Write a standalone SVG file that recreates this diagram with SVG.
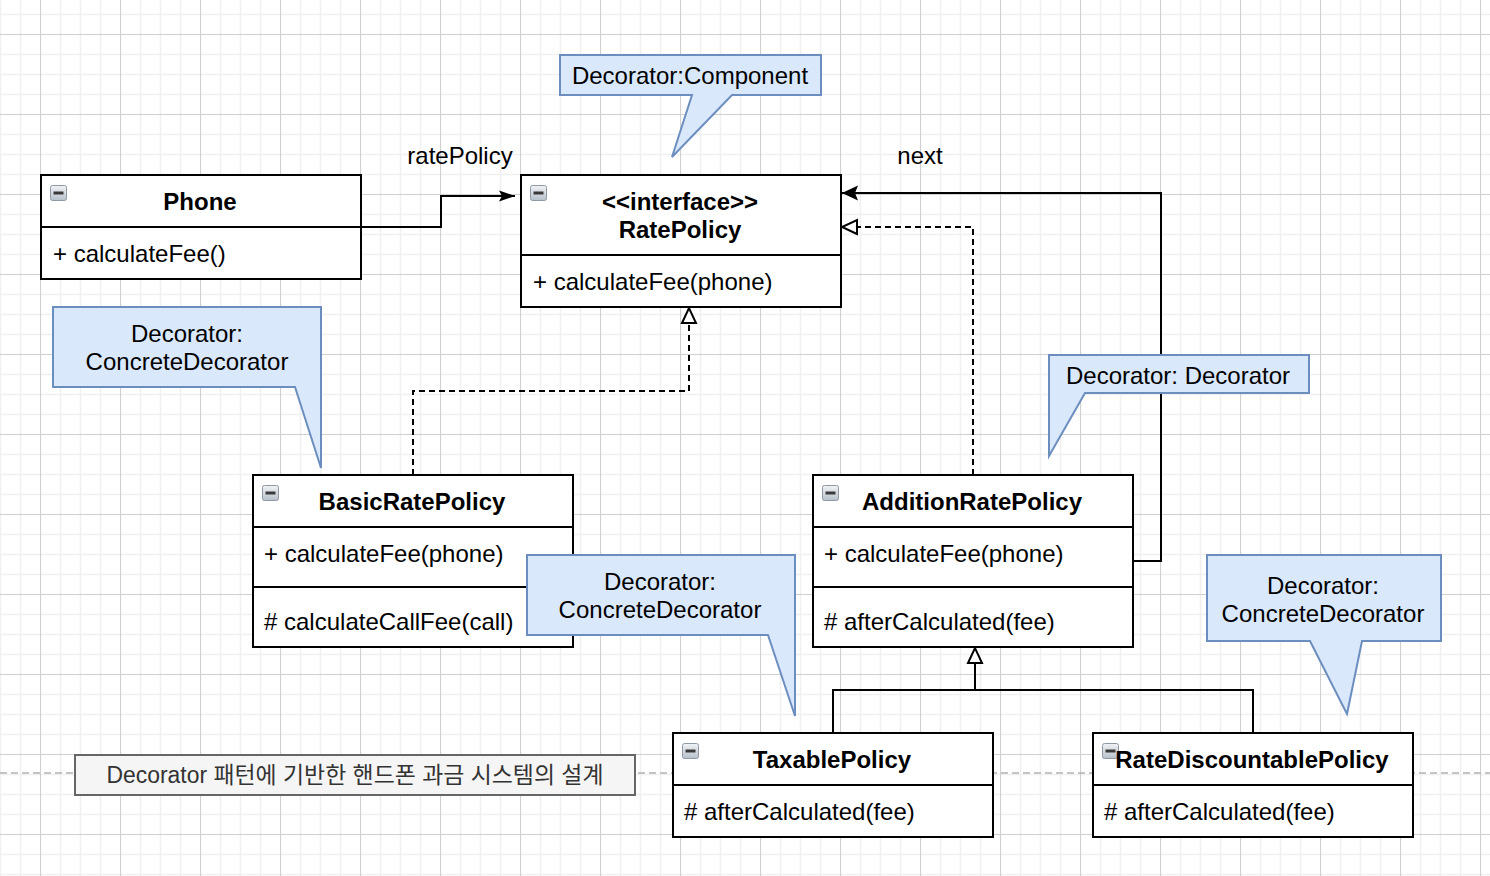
<svg xmlns="http://www.w3.org/2000/svg" xmlns:xlink="http://www.w3.org/1999/xlink" width="1490" height="876" viewBox="0 0 1490 876">
<style>
text{font-family:"Liberation Sans",Arial,sans-serif;font-size:24px;fill:#000}
.b{font-weight:bold}
.m{text-anchor:middle}
.box{fill:#fff;stroke:#000;stroke-width:2}
.div{stroke:#000;stroke-width:2;fill:none}
.edge{fill:none;stroke:#000;stroke-width:2}
.dash{stroke-dasharray:6 4}
.note{fill:#dae8fc;stroke:#6c8ebf;stroke-width:2}
</style>
<defs>
<pattern id="grid" x="40" y="34" width="80" height="80" patternUnits="userSpaceOnUse">
<rect width="80" height="80" fill="#fff"/>
<path d="M20.5 0V80M40.5 0V80M60.5 0V80M0 20.5H80M0 40.5H80M0 60.5H80" stroke="#f0f0f0" stroke-width="1.5"/>
<path d="M0.5 0V80M0 0.5H80" stroke="#d0d0d0" stroke-width="1.2"/>
</pattern>
<linearGradient id="ig" x1="0" y1="0" x2="0" y2="1"><stop offset="0" stop-color="#f1f3f6"/><stop offset="1" stop-color="#b7c0ca"/></linearGradient>
<g id="minus"><rect x="0.5" y="0.5" width="16" height="15" rx="2" fill="url(#ig)" stroke="#8f99a6"/><rect x="3.5" y="6.5" width="10" height="3" fill="#3a3a3a"/></g>
<marker id="arrowFilled" markerWidth="16" markerHeight="12" refX="16" refY="6" orient="auto" markerUnits="userSpaceOnUse"><path d="M0,0.5 L16,6 L0,11.5 L3,6 Z" fill="#000"/></marker>
<marker id="arrowBig" markerWidth="16" markerHeight="16" refX="16" refY="8" orient="auto" markerUnits="userSpaceOnUse"><path d="M0,0.5 L16,8 L0,15.5 L3,8 Z" fill="#000"/></marker>
<marker id="triHollow" markerWidth="20" markerHeight="20" refX="17" refY="9" orient="auto" markerUnits="userSpaceOnUse" overflow="visible"><path d="M2,2 L17,9 L2,16 Z" fill="#fff" stroke="#000" stroke-width="2" stroke-dasharray="none"/></marker>
</defs>
<rect width="1490" height="876" fill="url(#grid)"/>
<line x1="0" y1="773" x2="1490" y2="773" stroke="#b3b3b3" stroke-width="1.5" stroke-dasharray="7 4"/>

<g id="title">
<rect x="75" y="755" width="560" height="40" fill="#f5f5f5" stroke="#666" stroke-width="2"/>
<text x="355" y="783" class="m" style="fill:#333;font-family:'Liberation Sans','Noto Sans CJK KR',sans-serif;font-size:23px" textLength="497" lengthAdjust="spacingAndGlyphs">Decorator 패턴에 기반한 핸드폰 과금 시스템의 설계</text>
</g>

<g id="connectors">
<path class="edge" d="M361,227 H441 V196 H515" marker-end="url(#arrowFilled)"/>
<path class="edge dash" d="M413,475 V391 H689 V308" marker-end="url(#triHollow)"/>
<path class="edge dash" d="M973,475 V227 H842" marker-end="url(#triHollow)"/>
<path class="edge" d="M1133,561 H1161 V193 H842" marker-end="url(#arrowBig)"/>
<path class="edge" d="M833,733 V690 H1253 V733"/>
<path class="edge" d="M975,690 V648" marker-end="url(#triHollow)"/>
<text x="460" y="164" class="m">ratePolicy</text>
<text x="920" y="164" class="m">next</text>
</g>

<g id="phone">
<rect class="box" x="41" y="175" width="320" height="104"/>
<line class="div" x1="41" y1="227" x2="361" y2="227"/>
<use xlink:href="#minus" x="50" y="185"/>
<text x="200" y="210" class="b m">Phone</text>
<text x="53" y="262">+ calculateFee()</text>
</g>

<g id="ratePolicy">
<rect class="box" x="521" y="175" width="320" height="132"/>
<line class="div" x1="521" y1="255" x2="841" y2="255"/>
<use xlink:href="#minus" x="530" y="185"/>
<text x="680" y="210" class="b m">&lt;&lt;interface&gt;&gt;</text>
<text x="680" y="238" class="b m">RatePolicy</text>
<text x="533" y="290">+ calculateFee(phone)</text>
</g>

<g id="basicRatePolicy">
<rect class="box" x="253" y="475" width="320" height="172"/>
<line class="div" x1="253" y1="527" x2="573" y2="527"/>
<line class="div" x1="253" y1="587" x2="573" y2="587"/>
<use xlink:href="#minus" x="262" y="485"/>
<text x="412" y="510" class="b m">BasicRatePolicy</text>
<text x="264" y="562">+ calculateFee(phone)</text>
<text x="264" y="630"># calculateCallFee(call)</text>
</g>

<g id="additionRatePolicy">
<rect class="box" x="813" y="475" width="320" height="172"/>
<line class="div" x1="813" y1="527" x2="1133" y2="527"/>
<line class="div" x1="813" y1="587" x2="1133" y2="587"/>
<use xlink:href="#minus" x="822" y="485"/>
<text x="972" y="510" class="b m">AdditionRatePolicy</text>
<text x="824" y="562">+ calculateFee(phone)</text>
<text x="824" y="630"># afterCalculated(fee)</text>
</g>

<g id="taxablePolicy">
<rect class="box" x="673" y="733" width="320" height="104"/>
<line class="div" x1="673" y1="785" x2="993" y2="785"/>
<use xlink:href="#minus" x="682" y="743"/>
<text x="832" y="768" class="b m">TaxablePolicy</text>
<text x="684" y="820"># afterCalculated(fee)</text>
</g>

<g id="rateDiscountablePolicy">
<rect class="box" x="1093" y="733" width="320" height="104"/>
<line class="div" x1="1093" y1="785" x2="1413" y2="785"/>
<use xlink:href="#minus" x="1102" y="743"/>
<text x="1252" y="768" class="b m">RateDiscountablePolicy</text>
<text x="1104" y="820"># afterCalculated(fee)</text>
</g>

<g id="noteComponent">
<path class="note" d="M560,55 H821 V95 H732 L672,157 L692,95 H560 Z"/>
<text x="690" y="84" class="m">Decorator:Component</text>
</g>

<g id="noteConcrete1">
<path class="note" d="M53,307 H321 V468 L295,387 H53 Z"/>
<text x="187" y="342" class="m">Decorator:</text>
<text x="187" y="370" class="m">ConcreteDecorator</text>
</g>

<g id="noteConcrete2">
<path class="note" d="M527,555 H795 V716 L768,635 H527 Z"/>
<text x="660" y="590" class="m">Decorator:</text>
<text x="660" y="618" class="m">ConcreteDecorator</text>
</g>

<g id="noteDecorator">
<path class="note" d="M1049,355 H1309 V393 H1085 L1049,456 Z"/>
<text x="1178" y="384" class="m">Decorator: Decorator</text>
</g>

<g id="noteConcrete3">
<path class="note" d="M1207,555 H1441 V641 H1362 L1347,714 L1310,641 H1207 Z"/>
<text x="1323" y="594" class="m">Decorator:</text>
<text x="1323" y="622" class="m">ConcreteDecorator</text>
</g>
</svg>
